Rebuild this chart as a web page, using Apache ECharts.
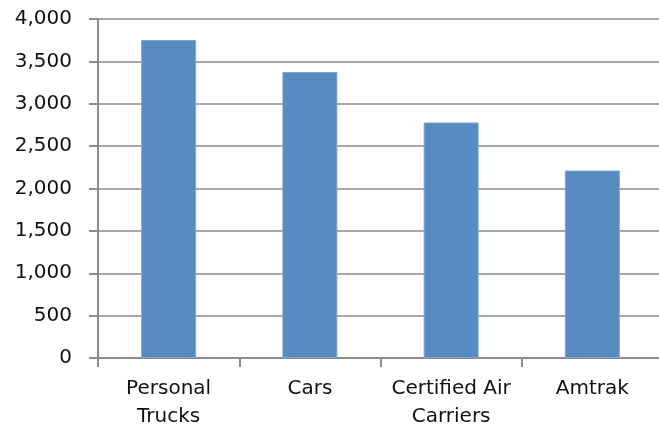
<!DOCTYPE html>
<html>
<head>
<meta charset="utf-8">
<script src="https://cdn.jsdelivr.net/npm/echarts@6/dist/echarts.min.js"></script>
<style>
  html, body { margin: 0; padding: 0; background: #fff; }
  #chart { width: 659px; height: 428px; }
</style>
</head>
<body>
<div id="chart"></div>
<script>
// categories and values
var categories = ['Personal\nTrucks', 'Cars', 'Certified Air\nCarriers', 'Amtrak'];
var values = [3752, 3374, 2779, 2212];
var yTicks = { min: 0, max: 4000, step: 500 };

var gridColor = '#a8a8a8';
var axisColor = '#8c8c8c';
var font = 'DejaVu Sans';

var chart = echarts.init(document.getElementById('chart'));
chart.setOption({
  animation: false,
  grid: {
    left: 98,
    right: -4,
    top: 19,
    bottom: 70,
    containLabel: false,
    outerBoundsMode: 'none'
  },
  xAxis: {
    type: 'category',
    data: categories,
    axisLine: { show: true, lineStyle: { color: axisColor, width: 2 } },
    axisTick: { show: true, length: 9, lineStyle: { color: axisColor, width: 2 } },
    axisLabel: {
      margin: 17,
      color: '#111',
      fontFamily: font,
      fontSize: 20,
      lineHeight: 28,
      interval: 0
    }
  },
  yAxis: {
    type: 'value',
    min: yTicks.min,
    max: yTicks.max,
    interval: yTicks.step,
    axisLine: { show: true, lineStyle: { color: axisColor, width: 2 } },
    axisTick: { show: true, length: 9, lineStyle: { color: axisColor, width: 2 } },
    splitLine: { show: true, lineStyle: { color: gridColor, width: 2 } },
    axisLabel: {
      margin: 26,
      color: '#111',
      fontFamily: font,
      fontSize: 20,
      formatter: function (v) { return v.toLocaleString('en-US'); }
    }
  },
  series: [{
    type: 'bar',
    data: values,
    barWidth: 55,
    itemStyle: { color: '#598bc3', borderColor: '#7ea6d3', borderWidth: 1 }
  }]
});
</script>
</body>
</html>
